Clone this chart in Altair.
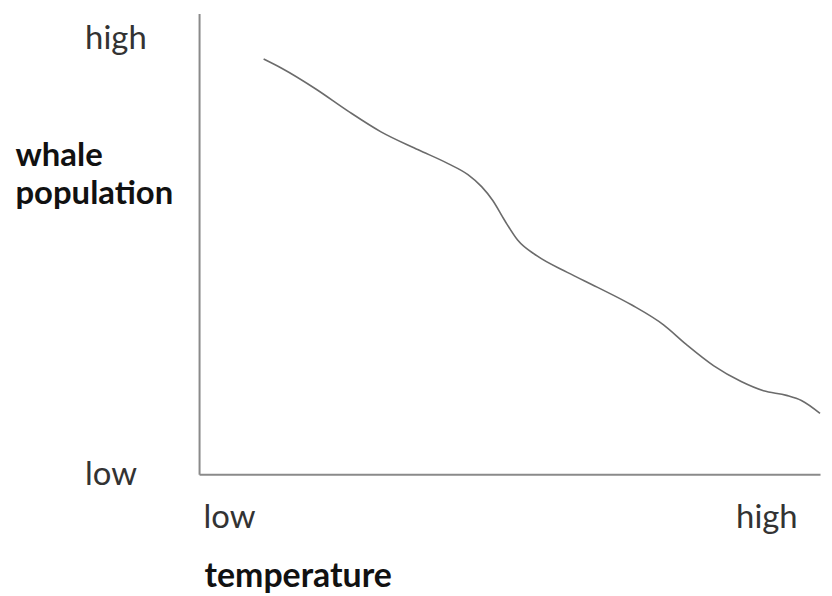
import altair as alt
import pandas as pd

# curve (relative scale 0-100 on both axes)
temperature = [10.4, 13.3, 18.8, 24.0, 29.3, 35.3, 40.1, 43.3, 45.5, 47.3, 49.2, 51.3,
               54.5, 59.3, 64.1, 69.7, 74.8, 78.5, 82.9, 87.3, 90.9, 94.6, 97.0, 100.0]
population = [90.1, 88.1, 83.6, 78.8, 74.3, 70.4, 67.4, 65.0, 62.4, 59.4, 55.1, 50.8,
              47.3, 43.8, 40.6, 36.7, 32.4, 28.1, 23.5, 20.1, 18.1, 17.1, 16.0, 13.2]

x_tick_values = [0.64, 86.4]
x_tick_labels = ["low", "high"]
y_tick_values = [0, 94.5]
y_tick_labels = ["low", "high"]

df = pd.DataFrame({"temperature": temperature, "population": population})


def label_expr(values, labels):
    return f"datum.value < {(values[0] + values[1]) / 2} ? '{labels[0]}' : '{labels[1]}'"


FONT = "Lato"

x_axis = alt.Axis(
    values=x_tick_values,
    labelExpr=label_expr(x_tick_values, x_tick_labels),
    ticks=False, grid=False,
    domainColor="#8a8a8a", domainWidth=2,
    labelFont=FONT, labelFontSize=33, labelColor="#333333",
    labelAlign="left", labelBaseline="alphabetic", labelPadding=54,
    labelFlush=False, labelOverlap=False,
    title="temperature", titleFont=FONT, titleFontSize=34, titleFontWeight="bold",
    titleColor="#111111", titleAlign="left", titleBaseline="alphabetic",
    titleX=5, titleY=113,
)

y_axis = alt.Axis(
    values=y_tick_values,
    labelExpr=label_expr(y_tick_values, y_tick_labels),
    ticks=False, grid=False,
    domainColor="#8a8a8a", domainWidth=2,
    labelFont=FONT, labelFontSize=33, labelColor="#333333",
    labelAlign="left", labelBaseline="middle", labelPadding=115,
    labelFlush=False, labelOverlap=False,
    title=["whale", "population"], titleFont=FONT, titleFontSize=33,
    titleFontWeight="bold", titleColor="#111111", titleAngle=0,
    titleAlign="left", titleBaseline="alphabetic", titleLineHeight=38,
    titleX=-185, titleY=153,
)

chart = (
    alt.Chart(df)
    .mark_line(color="#6b6b6b", strokeWidth=1.6, interpolate="monotone")
    .encode(
        x=alt.X("temperature:Q", scale=alt.Scale(domain=[0, 100], nice=False, zero=False), axis=x_axis),
        y=alt.Y("population:Q", scale=alt.Scale(domain=[0, 100], nice=False, zero=False), axis=y_axis),
    )
    .properties(width=624, height=463, padding={"left": 7, "top": 4, "right": 0, "bottom": 0})
    .configure_view(stroke=None)
)

chart.save("out.html", embed_options={"renderer": "svg", "actions": False})
